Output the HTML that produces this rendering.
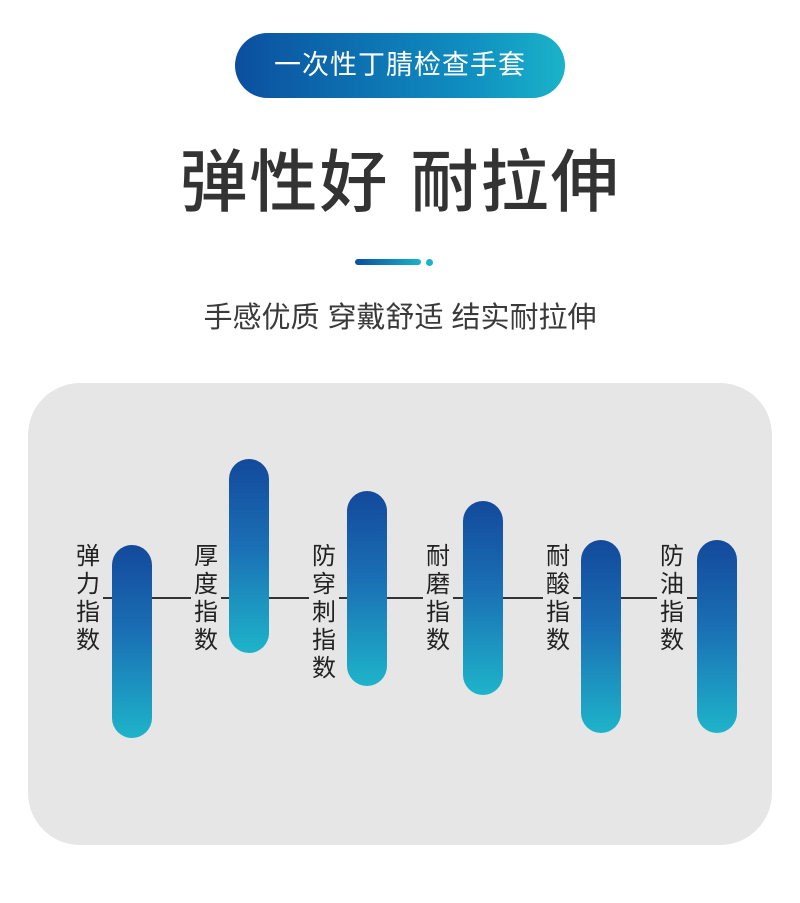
<!DOCTYPE html>
<html><head><meta charset="utf-8"><style>
body{margin:0;width:800px;height:903px;background:#fff;position:relative;overflow:hidden;font-family:"Liberation Sans","Noto Sans CJK SC",sans-serif}
.a{position:absolute}
.pill{left:235px;top:33px;width:330px;height:65px;border-radius:33px;background:linear-gradient(90deg,#0b4f9f,#0f8ec0 70%,#1ab3c9);color:#fff;font-size:27px;text-align:center;line-height:65px;letter-spacing:1px}
.title{left:0;width:800px;top:138px;text-align:center;font-size:68px;color:#333;line-height:90px;letter-spacing:2px;font-weight:500}
.sub{left:0;width:800px;top:298px;text-align:center;font-size:29px;color:#3a3a3a;line-height:40px}
.panel{left:28px;top:383px;width:744px;height:462px;border-radius:52px;background:#e6e6e6}
.line{left:100px;top:597px;width:630px;height:2px;background:#333}
.bar{width:40px;border-radius:20px;background:linear-gradient(180deg,#13499c,#1a6fb4 45%,#1eb4ca)}
.lab{width:30px;font-size:24px;line-height:28px;color:#222;text-align:center;background:#e6e6e6;top:543px}
</style></head><body>
<div class="a pill">一次性丁腈检查手套</div>
<div class="a title">弹性好 耐拉伸</div>
<div class="a" style="left:355px;top:259px;width:66px;height:6px;border-radius:3px;background:linear-gradient(90deg,#0b4f9f,#1ab3c9)"></div>
<div class="a" style="left:426px;top:259px;width:7px;height:7px;border-radius:50%;background:#1ab3c9"></div>
<div class="a sub">手感优质 穿戴舒适 结实耐拉伸</div>
<div class="a panel"></div>
<div class="a line"></div>
<div class="a lab" style="left:73px">弹<br>力<br>指<br>数</div>
<div class="a lab" style="left:191px">厚<br>度<br>指<br>数</div>
<div class="a lab" style="left:309px">防<br>穿<br>刺<br>指<br>数</div>
<div class="a lab" style="left:423px">耐<br>磨<br>指<br>数</div>
<div class="a lab" style="left:543px">耐<br>酸<br>指<br>数</div>
<div class="a lab" style="left:657px">防<br>油<br>指<br>数</div>
<div class="a bar" style="left:112px;top:545px;height:193px"></div>
<div class="a bar" style="left:229px;top:459px;height:194px"></div>
<div class="a bar" style="left:347px;top:491px;height:195px"></div>
<div class="a bar" style="left:463px;top:501px;height:194px"></div>
<div class="a bar" style="left:581px;top:540px;height:193px"></div>
<div class="a bar" style="left:697px;top:540px;height:193px"></div>
</body></html>
